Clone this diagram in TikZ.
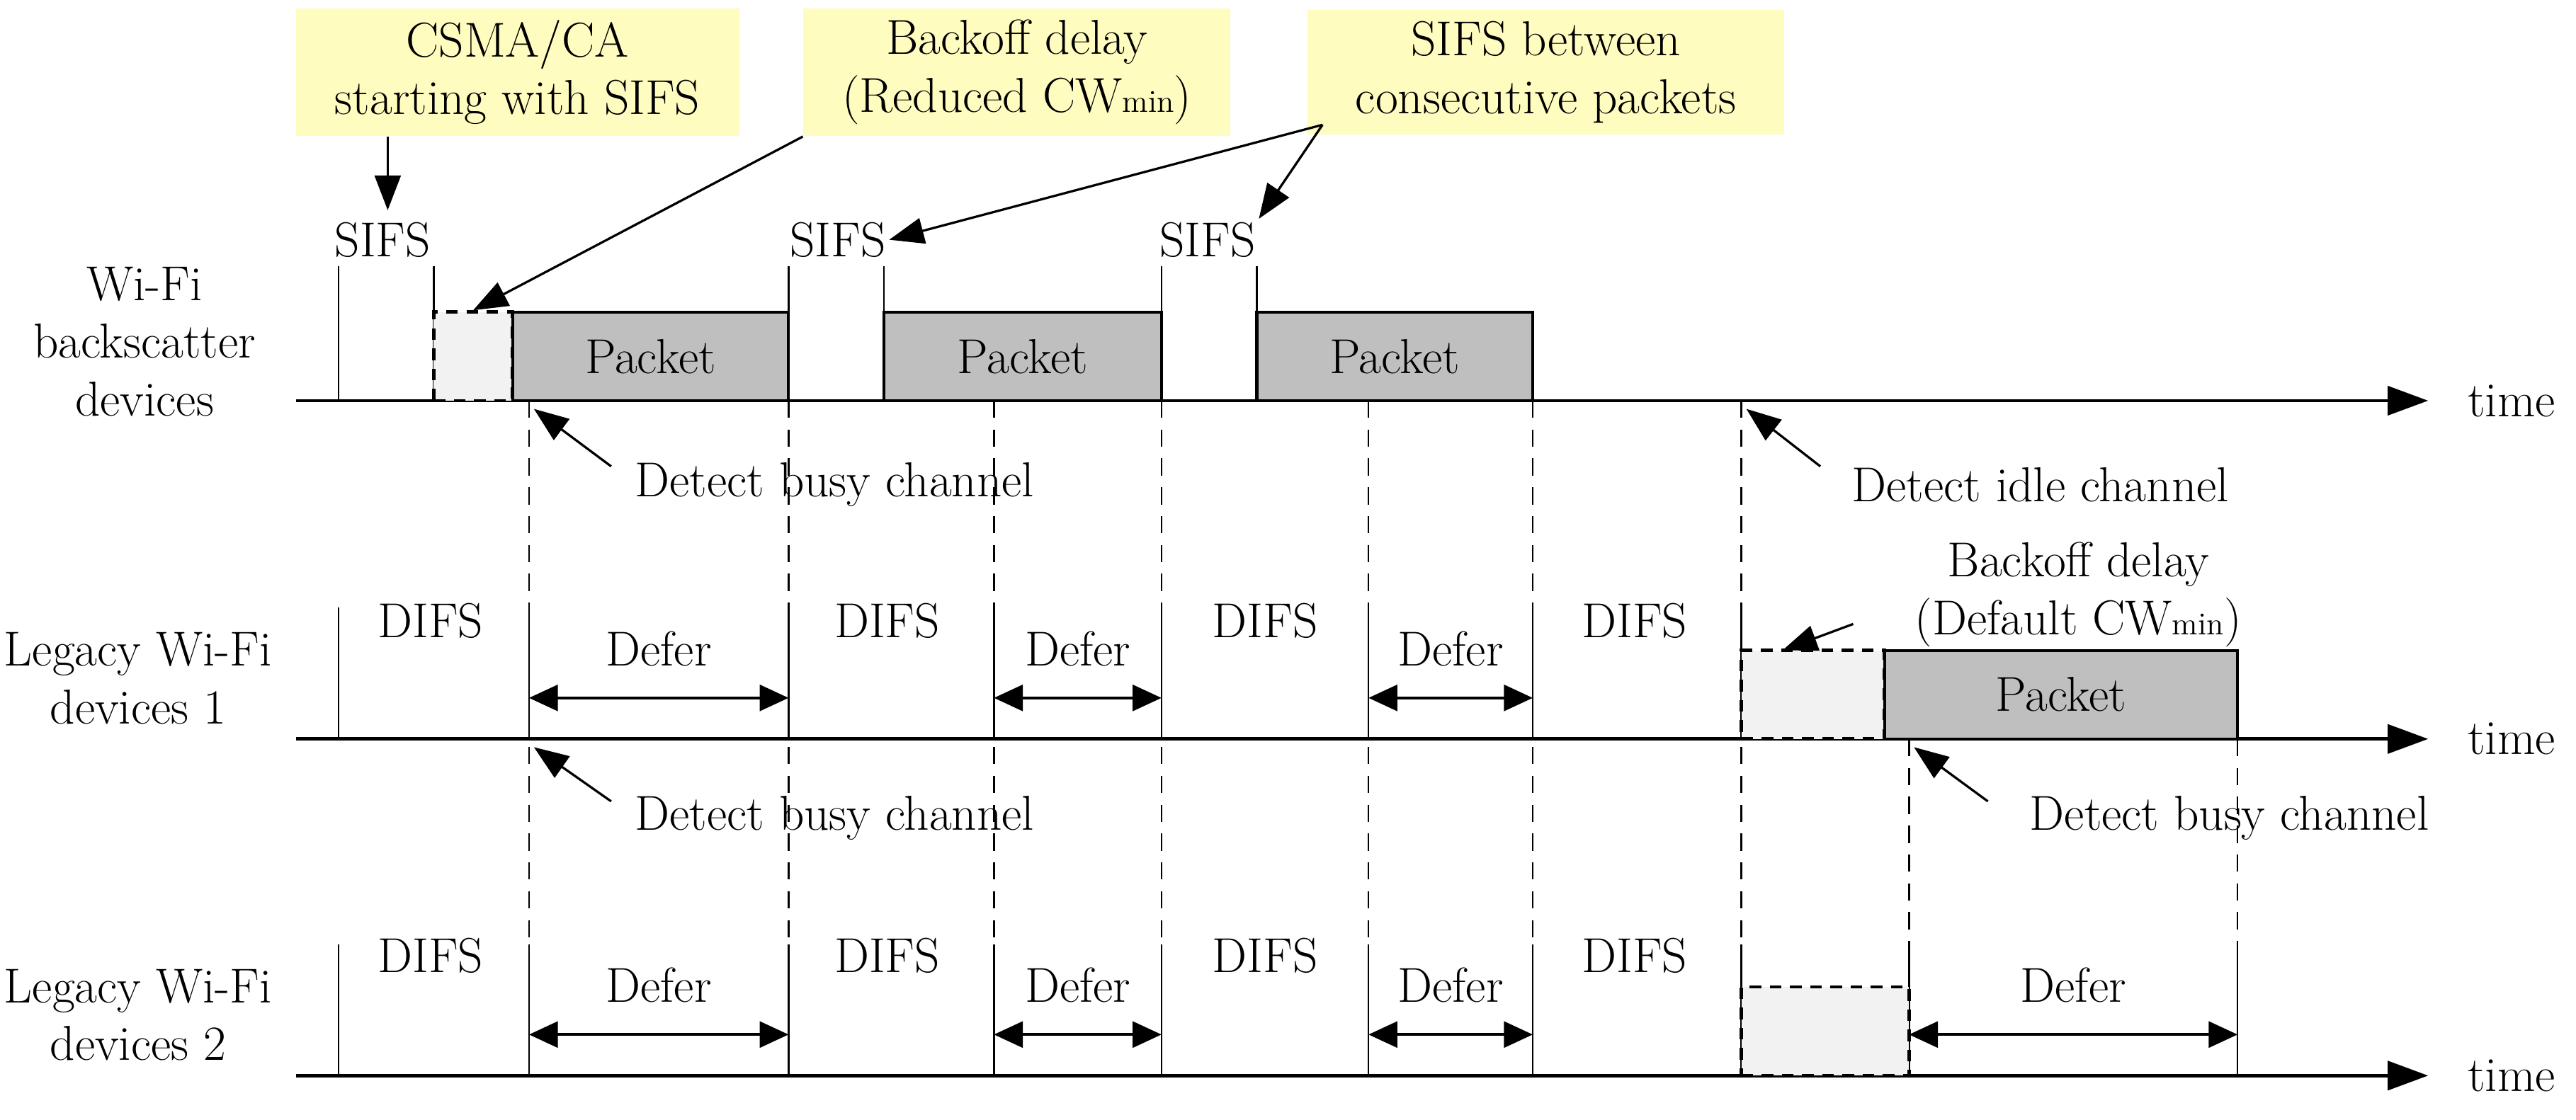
\documentclass[tikz,border=0pt]{standalone}
\usetikzlibrary{arrows.meta}
\begin{document}
\begin{tikzpicture}[x=0.02cm,y=-0.02cm,
  txt/.style={font=\fontsize{17}{20}\selectfont, inner sep=1pt},
  note/.style={txt, fill=yellow!25, align=center, inner sep=4pt},
  axis/.style={line width=1.2pt, -{Triangle[length=14pt,width=10pt]}},
  tick/.style={line width=0.6pt},
  guide/.style={line width=0.6pt, dash pattern=on 6pt off 4pt},
  pkt/.style={draw, line width=1pt, fill=black!25},
  bko/.style={draw, line width=1.2pt, dash pattern=on 4pt off 3pt, fill=black!5},
  ptr/.style={line width=0.8pt, -{Triangle[length=12pt,width=9pt]}},
  span/.style={line width=1pt, {Triangle[length=10pt,width=9pt]}-{Triangle[length=10pt,width=9pt]}}]
\useasboundingbox (0,0) rectangle (1568,682);

% dashed guides
\foreach \x in {322,480,605,707,833,933,1060} \draw[guide] (\x,244) -- (\x,655);
\foreach \x in {1162,1362} \draw[guide] (\x,450) -- (\x,655);

% axes
\foreach \y/\n in {244/a,450/b,655/c} {
  \coordinate (s\n) at (180,\y);
  \coordinate (e\n) at (1478,\y);
  \draw[axis] (s\n) -- (e\n);
  \node[txt, right] at (1500,\y) {time};
}

% row labels
\node[txt, align=center] (r1) at (88,208) {Wi-Fi\\backscatter\\devices};
\node[txt, align=center] (r2) at (84,413) {Legacy Wi-Fi\\devices 1};
\node[txt, align=center] (r3) at (84,618) {Legacy Wi-Fi\\devices 2};

% row 1: backscatter
\foreach \x in {206,264,480,538,707,765} \draw[tick] (\x,162) -- (\x,244);
\node[txt] at (233,146) {SIFS};
\node[txt] (sifs2) at (510,146) {SIFS};
\node[txt] (sifs3) at (735,146) {SIFS};
\node[bko, minimum width=0.96cm, minimum height=1.08cm, inner sep=0] (bk1) at (288,217) {};
\node[pkt, txt, minimum width=3.36cm, minimum height=1.08cm] (p1) at (396,217) {Packet};
\node[pkt, txt, minimum width=3.38cm, minimum height=1.08cm] (p2) at (622.5,217) {Packet};
\node[pkt, txt, minimum width=3.36cm, minimum height=1.08cm] (p3) at (849,217) {Packet};

% row 2: legacy 1
\foreach \x in {206,322,480,605,707,833,933,1060} \draw[tick] (\x,370) -- (\x,450);
\foreach \x in {262,540,770,995} \node[txt] at (\x,378) {DIFS};
\foreach \a/\b/\m in {322/480/401,605/707/656,833/933/883} {
  \coordinate (dl) at (\a,425); \coordinate (dr) at (\b,425);
  \draw[span] (dl) -- (dr);
  \node[txt] at (\m,395) {Defer};
}
\node[bko, minimum width=1.74cm, minimum height=1.08cm, inner sep=0] (bk2) at (1103.5,423) {};
\node[pkt, txt, minimum width=4.3cm, minimum height=1.08cm] (p4) at (1254.5,423) {Packet};

% row 3: legacy 2
\foreach \x in {206,322,480,605,707,833,933,1060,1162,1362} \draw[tick] (\x,575) -- (\x,655);
\foreach \x in {262,540,770,995} \node[txt] at (\x,582) {DIFS};
\foreach \a/\b/\m in {322/480/401,605/707/656,833/933/883,1162/1362/1262} {
  \coordinate (dl) at (\a,630); \coordinate (dr) at (\b,630);
  \draw[span] (dl) -- (dr);
  \node[txt] at (\m,600) {Defer};
}
\node[bko, minimum width=2.04cm, minimum height=1.08cm, inner sep=0] (bk3) at (1111,628) {};

% notes
\node[note, minimum width=5.4cm] (n1) at (315,44) {CSMA/CA\\starting with SIFS};
\node[note, minimum width=5.2cm] (n2) at (619,44) {Backoff delay\\(Reduced CW{\fontsize{11}{12}\selectfont min})};
\node[note, minimum width=5.8cm] (n3) at (941,44) {SIFS between\\consecutive packets};
\coordinate (t1) at (236,128);
\draw[ptr] (n1.south -| t1) -- (t1);
\draw[ptr] (n2.south west) -- (bk1.north);
\coordinate (n3a) at (805,76);
\draw[ptr] (n3a) -- (sifs2.east);
\draw[ptr] (n3a) -- (sifs3.north east);

% detect labels
\node[txt] (d1) at (508,295) {Detect busy channel};
\node[txt] (d2) at (1242,295) {Detect idle channel};
\node[txt] (d3) at (508,498) {Detect busy channel};
\node[txt] (d4) at (1357,498) {Detect busy channel};
\coordinate (d1t) at (325,249); \draw[ptr] (372,284) -- (d1t);
\coordinate (d2t) at (1063,249); \draw[ptr] (1108,284) -- (d2t);
\coordinate (d3t) at (325,455); \draw[ptr] (372,488) -- (d3t);
\coordinate (d4t) at (1165,455); \draw[ptr] (1210,488) -- (d4t);

\node[txt, align=center] (n4) at (1265,362) {Backoff delay\\(Default CW{\fontsize{11}{12}\selectfont min})};
\coordinate (n4a) at (1128,380);
\draw[ptr] (n4a) -- (1085,396);
\end{tikzpicture}
\end{document}
